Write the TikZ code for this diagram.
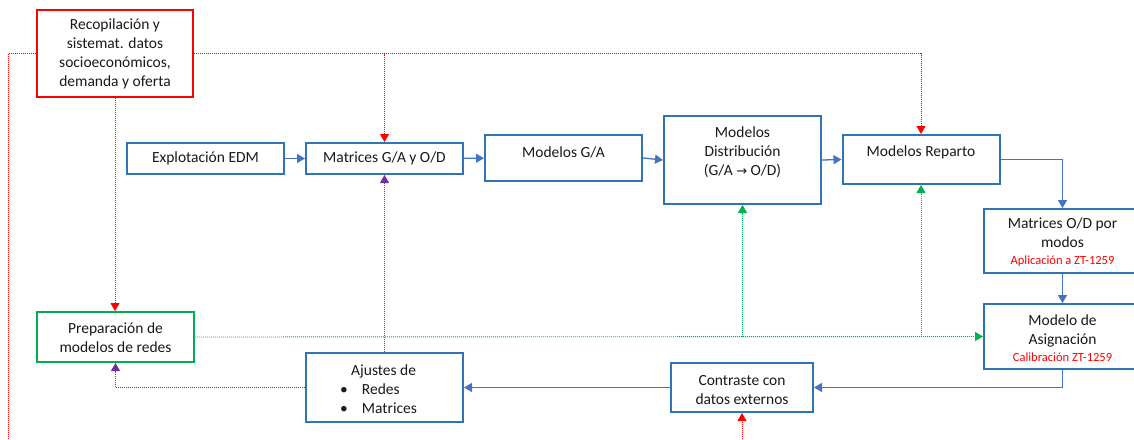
\documentclass[tikz,border=0pt]{standalone}
\usepackage{fontspec}
\setmainfont{Carlito}
\newfontfamily\symfont{DejaVu Sans}
\usetikzlibrary{arrows.meta}
\definecolor{boxblue}{RGB}{46,117,182}
\definecolor{linkblue}{RGB}{68,114,196}
\definecolor{mygreen}{RGB}{0,176,80}
\definecolor{mypurple}{RGB}{112,48,160}
\definecolor{myred}{RGB}{255,0,0}
\definecolor{txtgray}{RGB}{25,25,25}
\begin{document}
\begin{tikzpicture}[x=1pt,y=-1pt,
  box/.style={draw=boxblue,line width=2pt,inner sep=0pt,minimum width=157pt,fill=white},
  txt/.style={font=\fontsize{15.5}{19}\selectfont,align=center,inner sep=0pt,text=txtgray},
  redtxt/.style={font=\fontsize{12.5}{15}\selectfont,text=myred},
  tipa/.style={-{Triangle[width=9pt,length=8pt]}},
  blueline/.style={draw=linkblue,line width=1.3pt,tipa},
  reddot/.style={draw=myred,line width=0.9pt,dash pattern=on 1pt off 1pt},
  greendot/.style={draw=mygreen,line width=0.9pt,dash pattern=on 1pt off 1pt},
  purpledot/.style={draw=mypurple,line width=0.9pt,dash pattern=on 1pt off 1pt}]
\useasboundingbox (0,0) rectangle (1134,439);
\clip (0,0) rectangle (1134,439);

% boxes
\node[box,draw=myred,minimum width=156pt,minimum height=87pt] (rec) at (115,53.5) {};
\node[box,minimum height=31pt] (exp) at (205.5,158.5) {};
\node[box,minimum height=31pt] (mga) at (384.5,158.5) {};
\node[box,minimum height=46pt] (mgat) at (563.5,158) {};
\node[box,minimum height=88pt] (dist) at (742.5,160) {};
\node[box,minimum height=49pt] (rep) at (921,159.5) {};
\node[box,minimum height=64pt] (mod) at (1062.5,241) {};
\node[box,minimum height=65pt] (asg) at (1062.5,336.5) {};
\node[box,draw=mygreen,minimum height=50pt] (prep) at (115.5,337) {};
\node[box,minimum height=69pt] (aj) at (384.5,387.5) {};
\node[box,minimum width=142pt,minimum height=49pt] (con) at (742,387.5) {};

% texts
\node[txt] (trec) at (115,53.5) {Recopilación y\\sistemat. datos\\socioeconómicos,\\demanda y oferta};
\node[txt] (texp) at (205.5,158.5) {Explotación EDM};
\node[txt] (tmga) at (384.5,158.5) {Matrices G/A y O/D};
\node[txt] (tmgat) at (563.5,152) {Modelos G/A};
\node[txt] (tdist) at (742.5,152) {Modelos\\Distribución\\(G/A {\symfont\fontsize{13}{19}\selectfont →} O/D)};
\node[txt] (trep) at (921,152) {Modelos Reparto};
\node[txt] (tmod) at (1062.5,242) {Matrices O/D por\\modos\\[-2pt]{\fontsize{12.5}{15}\selectfont\color{myred}Aplicación a ZT-1259}};
\node[txt] (tasg) at (1062.5,338.5) {Modelo de\\Asignación\\[-2pt]{\fontsize{12.5}{15}\selectfont\color{myred}Calibración ZT-1259}};
\node[txt] (tprep) at (115.5,337.5) {Preparación de\\modelos de redes};
\node[txt,align=left,anchor=west] (taj) at (340,389.5) {\hspace*{11pt}Ajustes de\\•\hspace{14pt}Redes\\•\hspace{14pt}Matrices};
\node[txt] (tcon) at (742,390.5) {Contraste con\\datos externos};

% blue flow
\draw[blueline] (exp) -- (mga);
\draw[blueline] (mga) -- (mgat);
\draw[blueline] (mgat.east) -- (dist.west);
\draw[blueline] (dist.east) -- (rep.west);
\draw[blueline] (rep.east) -| (mod.north);
\draw[blueline] (mod.south) -- (asg.north);
\draw[blueline] (asg.south) |- (con.east);
\draw[blueline] (con.west) -- (aj.east);

% purple
\draw[purpledot,tipa] (aj.west) -| (prep.south);
\draw[purpledot,tipa] (aj.north) -- (mga.south);

% green
\draw[greendot,tipa] (prep.east) -- (asg.west);
\draw[greendot,tipa] (dist.south |- prep.east) -- (dist.south);
\draw[greendot,tipa] (rep.south |- prep.east) -- (rep.south);

% red
\draw[reddot,tipa] (rec.east) -| (mga.north);
\draw[reddot,tipa] (rec.east) -| (rep.north);
\draw[reddot,tipa] (rec.south) -- (rec.south |- prep.north);
\coordinate (rl) at (8,452);
\draw[reddot,tipa] (rec.west) -| (rl) -| (con.south);
\end{tikzpicture}
\end{document}
